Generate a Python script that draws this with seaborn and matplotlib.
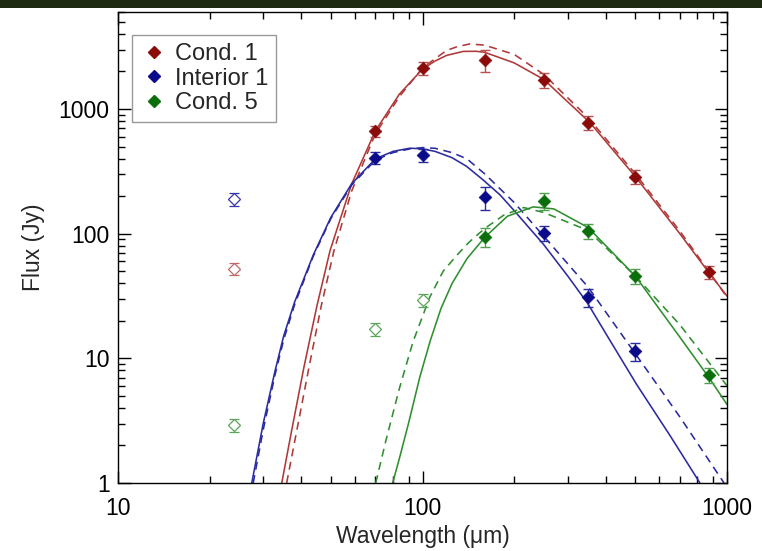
import matplotlib
matplotlib.use("Agg")
import matplotlib.pyplot as plt
from matplotlib.lines import Line2D
from matplotlib.patches import Rectangle
from matplotlib.ticker import FixedLocator, NullFormatter, FuncFormatter
import numpy as np
import pandas as pd
import seaborn as sns

# ---- photometry (Jy) -------------------------------------------------------
cond1_wl = [70, 100, 160, 250, 350, 500, 870]
cond1_flux = [667, 2140, 2470, 1710, 775, 287, 49]
cond1_err = [70, 250, 500, 240, 100, 37, 6]

int1_wl = [70, 100, 160, 250, 350, 500]
int1_flux = [405, 428, 196, 102, 31, 11.4]
int1_err = [45, 50, 40, 14, 5, 1.8]

cond5_wl = [160, 250, 350, 500, 870]
cond5_flux = [94.6, 183, 105, 46, 7.3]
cond5_err = [17, 28, 14, 6.5, 1.0]

# points excluded from the fits (open symbols)
cond1_excl_wl = [24]
cond1_excl_flux = [52.5]
cond1_excl_err = [6]
int1_excl_wl = [24]
int1_excl_flux = [190]
int1_excl_err = [22]
cond5_excl_wl = [24, 70, 100]
cond5_excl_flux = [2.9, 17.2, 29.3]
cond5_excl_err = [0.35, 2.0, 3.5]

# ---- greybody fits (solid / dashed) -----------------------------------------
cond1_fit_wl = [34.5, 37, 40.8, 45, 49.7, 58.5, 70, 84, 100, 110, 120, 136, 150,
                160, 200, 250, 355, 500, 700, 870, 1000]
cond1_fit_flux = [1.0, 2.48, 8.5, 26.3, 73.1, 250, 667, 1318, 2089, 2427, 2692,
                  2897, 2904, 2851, 2344, 1730, 776, 287, 100, 49, 31.6]
cond1_alt_wl = [35.8, 38.5, 42.4, 46.5, 51.2, 58.5, 70, 84, 100, 120, 130, 143,
                160, 200, 250, 350, 500, 700, 870, 1000]
cond1_alt_flux = [1.0, 2.51, 8.51, 26.3, 73.1, 219, 631, 1259, 2138, 2951, 3162,
                  3327, 3251, 2742, 1897, 851, 302, 105, 50.1, 30.9]

int1_fit_wl = [27.5, 30, 32.8, 35, 38, 43.8, 50, 58.5, 70, 80, 91, 100, 110, 125,
               139.5, 158.4, 180, 201, 249, 300, 349, 400, 505, 650, 815]
int1_fit_flux = [1.0, 3.02, 7.94, 15.1, 28.2, 67.6, 135, 251, 398, 457, 485, 479,
                 457, 407, 347, 269, 204, 151, 82.8, 45.7, 27.5, 15.8, 6.17, 2.40, 1.0]
int1_alt_wl = [27.8, 30, 32.8, 35, 38, 43.8, 50, 58.5, 70, 80, 91, 100, 110, 125,
               140, 160, 200, 250, 350, 527, 700, 978]
int1_alt_flux = [1.0, 2.69, 7.41, 14.1, 26.9, 66.1, 132, 245, 389, 447, 479, 490,
                 484, 447, 398, 302, 178, 95.5, 37.2, 9.08, 3.39, 1.0]

cond5_fit_wl = [79.8, 84, 90, 98, 106, 115, 125, 140, 160, 190, 231, 270, 350,
                500, 700, 870, 1000]
cond5_fit_flux = [1.0, 1.58, 3.02, 7.08, 13.8, 25.1, 39.8, 63.1, 93.3, 138, 164,
                  158, 112, 45.7, 14.8, 7.08, 4.27]
cond5_alt_wl = [70.2, 76, 84, 93, 105.6, 117, 130, 142, 160, 185, 215, 250, 350,
                500, 700, 880, 1000]
cond5_alt_flux = [1.0, 2.24, 5.75, 13.5, 30.9, 50.1, 67.6, 85.1, 110, 141, 162,
                  148, 106, 45.7, 18.6, 9.02, 6.03]

labels = ["Cond. 1", "Interior 1", "Cond. 5"]
x_ticks = [10, 100, 1000]
y_ticks = [1, 10, 100, 1000]

# ---- styling -----------------------------------------------------------------
sns.set_theme(style="ticks")
plt.rcParams["font.family"] = ["Liberation Sans", "DejaVu Sans"]
FS = 16.5

marker_col = {"Cond. 1": "#8b0a0a", "Interior 1": "#0a0a8b", "Cond. 5": "#0a6e0a"}
line_col = {"Cond. 1": "#b03838", "Interior 1": "#2b2ba0", "Cond. 5": "#2f8f2f"}
err_col = {"Cond. 1": "#b55050", "Interior 1": "#2b2ba0", "Cond. 5": "#4f9f4f"}
open_col = {"Cond. 1": "#c06868", "Interior 1": "#3535aa", "Cond. 5": "#5aa55a"}

fig = plt.figure(figsize=(7.62, 5.51), dpi=100)
fig.patch.set_facecolor("white")
# dark band along the top edge
fig.patches.append(Rectangle((0, 1 - 8 / 551), 1, 8 / 551, transform=fig.transFigure,
                             facecolor="#1f2a12", edgecolor="none", zorder=0))

ax = fig.add_axes([118 / 762, 1 - 483 / 551, (727 - 118) / 762, (483 - 12) / 551])
ax.set_xscale("log")
ax.set_yscale("log")

fits = {
    "Cond. 1": [(cond1_fit_wl, cond1_fit_flux, "-"), (cond1_alt_wl, cond1_alt_flux, (0, (5, 3.5)))],
    "Interior 1": [(int1_fit_wl, int1_fit_flux, "-"), (int1_alt_wl, int1_alt_flux, (0, (5, 3.5)))],
    "Cond. 5": [(cond5_fit_wl, cond5_fit_flux, "-"), (cond5_alt_wl, cond5_alt_flux, (0, (5, 3.5)))],
}
for name, curves in fits.items():
    for wl, fl, ls in curves:
        df = pd.DataFrame({"wavelength": wl, "flux": fl})
        sns.lineplot(data=df, x="wavelength", y="flux", ax=ax, color=line_col[name],
                     linestyle=ls, linewidth=1.15, sort=False, estimator=None,
                     legend=False, zorder=2)

phot = {
    "Cond. 1": (cond1_wl, cond1_flux, cond1_err),
    "Interior 1": (int1_wl, int1_flux, int1_err),
    "Cond. 5": (cond5_wl, cond5_flux, cond5_err),
}
excl = {
    "Cond. 1": (cond1_excl_wl, cond1_excl_flux, cond1_excl_err),
    "Interior 1": (int1_excl_wl, int1_excl_flux, int1_excl_err),
    "Cond. 5": (cond5_excl_wl, cond5_excl_flux, cond5_excl_err),
}

for name in labels:
    wl, fl, er = phot[name]
    ax.errorbar(wl, fl, yerr=er, fmt="none", ecolor=err_col[name], elinewidth=1.0,
                capsize=3.3, capthick=1.0, zorder=3)
    df = pd.DataFrame({"wavelength": wl, "flux": fl})
    sns.scatterplot(data=df, x="wavelength", y="flux", ax=ax, marker="D", s=42,
                    color=marker_col[name], edgecolor=marker_col[name], linewidth=0.5,
                    legend=False, zorder=4)

    wl, fl, er = excl[name]
    ax.errorbar(wl, fl, yerr=er, fmt="none", ecolor=open_col[name], elinewidth=0.9,
                capsize=3.3, capthick=0.9, zorder=3)
    ax.plot(wl, fl, ls="none", marker="D", markersize=6.2, markerfacecolor="white",
            markeredgecolor=open_col[name], markeredgewidth=0.9, zorder=4)

ax.set_xlim(10, 1000)
ax.set_ylim(1, 6000)

fmt = FuncFormatter(lambda v, p: f"{v:g}")
ax.xaxis.set_major_locator(FixedLocator(x_ticks))
ax.yaxis.set_major_locator(FixedLocator(y_ticks))
ax.xaxis.set_major_formatter(fmt)
ax.yaxis.set_major_formatter(fmt)
ax.xaxis.set_minor_formatter(NullFormatter())
ax.yaxis.set_minor_formatter(NullFormatter())

ax.tick_params(which="both", direction="in", top=True, right=True, colors="black",
               width=1.0)
ax.tick_params(which="major", length=9, labelsize=FS)
ax.tick_params(which="minor", length=5)
ax.tick_params(axis="x", which="major", pad=10)
ax.tick_params(axis="y", which="major", pad=6)
for s in ax.spines.values():
    s.set_color("black")
    s.set_linewidth(1.0)

ax.set_xlabel("Wavelength (\u03bcm)", fontsize=FS, labelpad=4)
ax.set_ylabel("Flux (Jy)", fontsize=FS, labelpad=10)

handles = [Line2D([], [], ls="none", marker="D", markersize=6.5,
                  color=marker_col[n], markeredgecolor=marker_col[n]) for n in labels]
leg = ax.legend(handles, labels, loc="upper left", bbox_to_anchor=(0.023, 0.951),
                borderaxespad=0, fontsize=FS + 0.5, frameon=True, fancybox=False,
                edgecolor="#999999", framealpha=1, handlelength=1.2,
                handletextpad=0.25, borderpad=0.35, labelspacing=0.1)
leg.get_frame().set_linewidth(1.0)

fig.savefig("out.png", dpi=100, facecolor=fig.get_facecolor())
